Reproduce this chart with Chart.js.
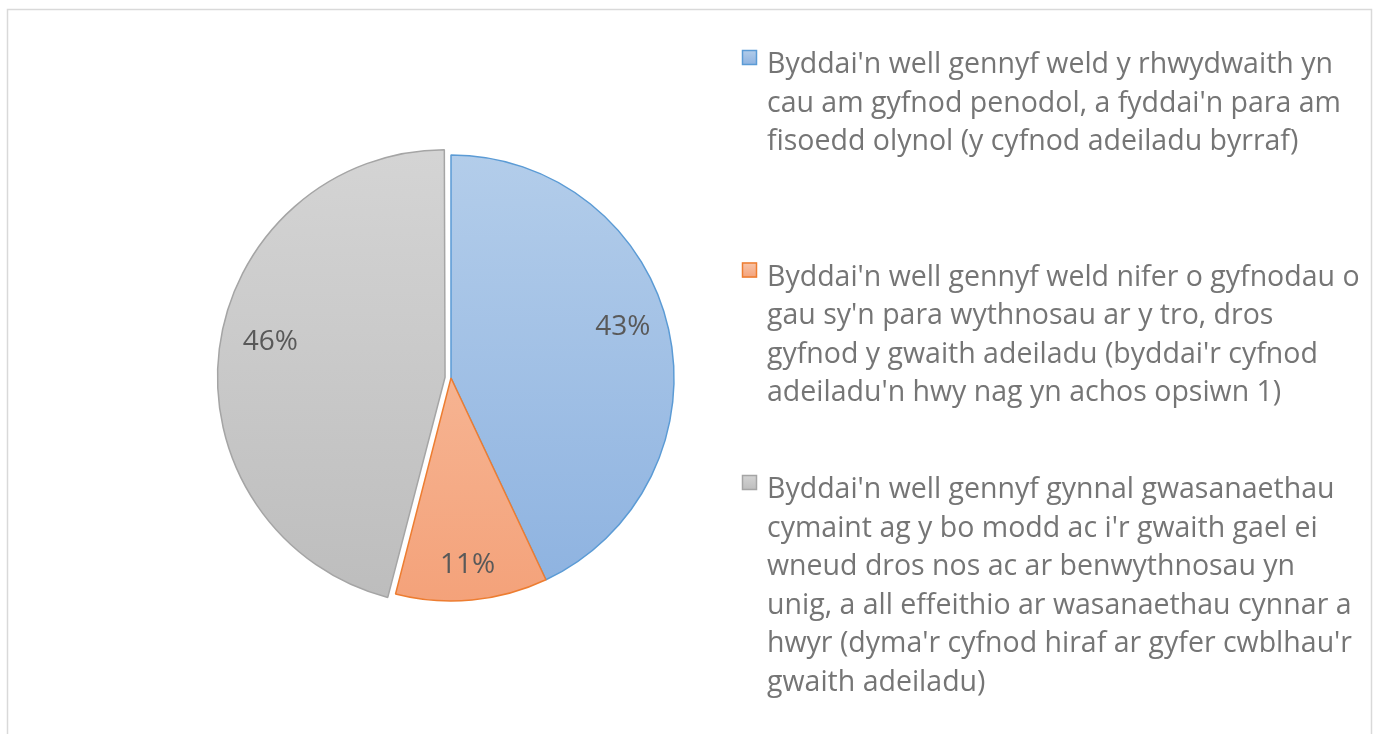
<!DOCTYPE html>
<html>
<head>
<meta charset="utf-8">
<script src="https://cdn.jsdelivr.net/npm/chart.js@4.4.1/dist/chart.umd.min.js"></script>
<style>
  html, body { margin: 0; padding: 0; background: #fff; }
  #wrap { width: 1374px; height: 734px; position: relative; }
</style>
</head>
<body>
<div id="wrap"><canvas id="myChart"></canvas></div>
<script>
// categories (legend text, already broken into lines like the original)
const categories = [
  ["Byddai'n well gennyf weld y rhwydwaith yn",
   "cau am gyfnod penodol, a fyddai'n para am",
   "fisoedd olynol (y cyfnod adeiladu byrraf)"],
  ["Byddai'n well gennyf weld nifer o gyfnodau o",
   "gau sy'n para wythnosau ar y tro, dros",
   "gyfnod y gwaith adeiladu (byddai'r cyfnod",
   "adeiladu'n hwy nag yn achos opsiwn 1)"],
  ["Byddai'n well gennyf gynnal gwasanaethau",
   "cymaint ag y bo modd ac i'r gwaith gael ei",
   "wneud dros nos ac ar benwythnosau yn",
   "unig, a all effeithio ar wasanaethau cynnar a",
   "hwyr (dyma'r cyfnod hiraf ar gyfer cwblhau'r",
   "gwaith adeiladu)"]
];
const percentages = [43, 11, 46];

// colours
const topColors = ['#b3cdea', '#f8c5a9', '#d4d4d4'];
const bottomColors = ['#8db2e0', '#f4a27a', '#bdbdbd'];
const lineColors = ['#5b9bd5', '#ed7d31', '#a5a5a5'];
const pieRadius = 223;
// small vertical shifts so the % labels sit where Excel put them
const labelShiftY = [-13, 12, -13];

function sliceFill(ctx) {
  const chart = ctx.chart;
  const area = chart.chartArea;
  if (!area) return topColors[ctx.dataIndex];
  const cy = (area.top + area.bottom) / 2;
  const g = chart.ctx.createLinearGradient(0, cy - pieRadius, 0, cy + pieRadius);
  g.addColorStop(0, topColors[ctx.dataIndex]);
  g.addColorStop(1, bottomColors[ctx.dataIndex]);
  return g;
}

const framePlugin = {
  id: 'frame',
  beforeDraw(chart) {
    const c = chart.ctx;
    c.save();
    c.fillStyle = '#ffffff';
    c.fillRect(0, 0, chart.width, chart.height);
    c.strokeStyle = '#d9d9d9';
    c.lineWidth = 1.5;
    c.strokeRect(7.5, 9.5, 1364, 740);
    c.restore();
  }
};

const pctLabels = {
  id: 'pctLabels',
  afterDatasetsDraw(chart) {
    const c = chart.ctx;
    const meta = chart.getDatasetMeta(0);
    const offsets = chart.data.datasets[0].offset;
    c.save();
    c.font = '28px "Open Sans"';
    c.fillStyle = '#595959';
    c.textAlign = 'center';
    c.textBaseline = 'middle';
    meta.data.forEach((arc, i) => {
      const mid = (arc.startAngle + arc.endAngle) / 2;
      // chart.js v4 moves an arc by offset/4
      const d = arc.outerRadius * 0.79 + offsets[i] / 4;
      c.fillText(percentages[i] + '%', arc.x + Math.cos(mid) * d, arc.y + Math.sin(mid) * d + labelShiftY[i]);
    });
    c.restore();
  }
};

const sideLegend = {
  id: 'sideLegend',
  afterDraw(chart) {
    const c = chart.ctx;
    const labels = chart.data.labels;
    const x0 = 742, textX = 767, firstBase = 73, itemGap = 212.5, lineH = 38.5;
    c.save();
    labels.forEach((lines, i) => {
      const base = firstBase + i * itemGap;
      const g = c.createLinearGradient(0, base - 23, 0, base - 8);
      g.addColorStop(0, topColors[i]);
      g.addColorStop(1, bottomColors[i]);
      c.fillStyle = g;
      c.fillRect(x0, base - 23, 15, 15);
      c.strokeStyle = lineColors[i];
      c.lineWidth = 1.5;
      c.strokeRect(x0 + 0.5, base - 22.5, 14, 14);
      c.fillStyle = '#757575';
      c.font = '30px "Open Sans"';
      c.textBaseline = 'alphabetic';
      lines.forEach((ln, j) => {
        c.save();
        c.translate(textX, base + j * lineH);
        c.scale(0.95, 1);
        c.fillText(ln, 0, 0);
        c.restore();
      });
    });
    c.restore();
  }
};

const ctx = document.getElementById('myChart');
new Chart(ctx, {
  type: 'pie',
  data: {
    labels: categories,
    datasets: [{
      data: percentages,
      backgroundColor: sliceFill,
      borderColor: lineColors,
      borderWidth: 1.5,
      offset: [0, 0, 24]
    }]
  },
  options: {
    responsive: true,
    maintainAspectRatio: false,
    animation: false,
    radius: pieRadius,
    layout: { padding: { left: 0, right: 472, top: 22, bottom: 0 } },
    plugins: {
      legend: { display: false },
      tooltip: { enabled: false },
      title: { display: false }
    }
  },
  plugins: [framePlugin, pctLabels, sideLegend]
});
</script>
</body>
</html>
